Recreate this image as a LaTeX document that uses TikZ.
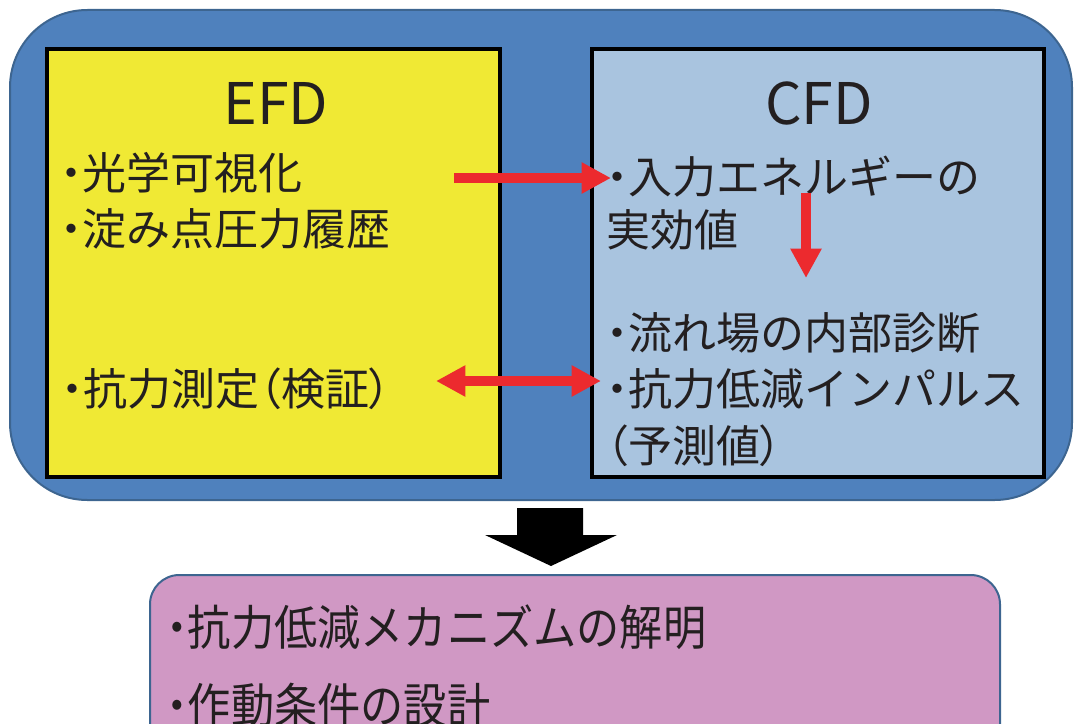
\documentclass[tikz,border=0pt]{standalone}
\usepackage{fontspec}
\newfontfamily\jpfont{Noto Sans CJK JP}
\newfontfamily\jppfont[RawFeature=+palt]{Noto Sans CJK JP}
\newfontfamily\jpnarrow[FakeStretch=0.9]{Noto Sans CJK JP}
\usepackage{xcolor}
\usepackage{tikz}
\usetikzlibrary{arrows.meta}

\definecolor{panelblue}{HTML}{4F81BD}
\definecolor{paneledge}{HTML}{3D6590}
\definecolor{efdyellow}{HTML}{F0E934}
\definecolor{cfdblue}{HTML}{A9C4DF}
\definecolor{resultpink}{HTML}{D098C4}
\definecolor{arrowred}{HTML}{EC2A2E}
\definecolor{textdark}{HTML}{231F20}

% bullet and narrow brackets
\newcommand{\bdot}{{\bfseries ･}}
\newcommand{\lpar}{{\jppfont （}}
\newcommand{\rpar}{{\jppfont ）}}

\begin{document}
\begin{tikzpicture}[x=0.75pt, y=-0.75pt,
    panel/.style={draw=paneledge, line width=1.5pt, fill=panelblue, rounded corners=58pt},
    fdbox/.style={draw=black, line width=3pt},
    title/.style={inner sep=0pt, text=textdark, font=\jpfont\fontsize{43}{50}\selectfont},
    txt/.style={anchor=west, inner sep=0pt, text=textdark, font=\jpfont\fontsize{33}{40}\selectfont},
    restxt/.style={anchor=west, inner sep=0pt, text=textdark, font=\jpnarrow\fontsize{36}{42}\selectfont},
    redarrow/.style={draw=arrowred, line width=7.5pt, -{Triangle[length=22pt, width=22pt]}},
    redboth/.style={draw=arrowred, line width=7.5pt, {Triangle[length=22pt, width=22pt]}-{Triangle[length=22pt, width=22pt]}}]
        \useasboundingbox (0, 0) rectangle (1075, 724);
        \clip (0, 0) rectangle (1075, 724);
        % outer panel and the two boxes
        \draw [panel] (10, 10) rectangle (1072, 500);
        \draw [fdbox, fill=efdyellow] (47, 49) rectangle (500, 477);
        \draw [fdbox, fill=cfdblue] (592, 49) rectangle (1044, 477);
        % result box (runs past the bottom edge)
        \draw [draw=paneledge, line width=1.5pt, fill=resultpink, rounded corners=22pt] (150, 575) rectangle (1000, 760);
        % texts
        \node (efd) at (276, 103) [title] {EFD};
        \node (cfd) at (819, 103) [title] {CFD};
        \node (efd1) at (60, 173) [txt] {\bdot 光学可視化};
        \node (efd2) at (60, 229) [txt] {\bdot 淀み点圧力履歴};
        \node (efd3) at (61, 389) [txt] {\bdot 抗力測定\lpar 検証\rpar};
        \node (cfd1) at (606, 177) [txt] {\bdot 入力エネルギーの};
        \node (cfd2) at (606, 230) [txt] {実効値};
        \node (cfd3) at (606, 333) [txt] {\bdot 流れ場の内部診断};
        \node (cfd4) at (606, 389) [txt] {\bdot 抗力低減インパルス};
        \node (cfd5) at (606, 446) [txt] {\lpar 予測値\rpar};
        \node (res1) at (166, 627) [restxt] {\bdot 抗力低減メカニズムの解明};
        \node (res2) at (166, 705) [restxt] {\bdot 作動条件の設計};
        % arrows
        \coordinate (a1) at (454, 178);
        \coordinate (b1) at (611, 178);
        \coordinate (a2) at (806, 193);
        \coordinate (b2) at (806, 278);
        \coordinate (a3) at (436, 381);
        \coordinate (b3) at (601, 381);
        \draw [redarrow] (a1) -- (b1);
        \draw [redarrow] (a2) -- (b2);
        \draw [redboth] (a3) -- (b3);
        \fill [black] (517, 508) -- (583, 508) -- (583, 535) -- (617, 535) -- (551, 566)
            -- (485, 535) -- (517, 535) -- cycle;
    \end{tikzpicture}
\end{document}
